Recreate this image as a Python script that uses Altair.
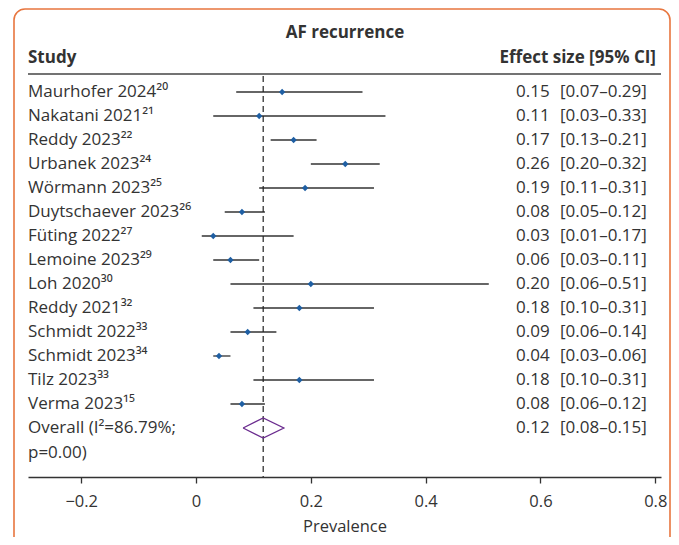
import altair as alt
import pandas as pd

# ---- data ----
studies = ["Maurhofer 2024²⁰", "Nakatani 2021²¹", "Reddy 2023²²", "Urbanek 2023²⁴",
           "Wörmann 2023²⁵", "Duytschaever 2023²⁶", "Füting 2022²⁷", "Lemoine 2023²⁹",
           "Loh 2020³⁰", "Reddy 2021³²", "Schmidt 2022³³", "Schmidt 2023³⁴",
           "Tilz 2023³³", "Verma 2023¹⁵"]
estimates = [0.15, 0.11, 0.17, 0.26, 0.19, 0.08, 0.03, 0.06, 0.20, 0.18, 0.09, 0.04, 0.18, 0.08]
lower = [0.07, 0.03, 0.13, 0.20, 0.11, 0.05, 0.01, 0.03, 0.06, 0.10, 0.06, 0.03, 0.10, 0.06]
upper = [0.29, 0.33, 0.21, 0.32, 0.31, 0.12, 0.17, 0.11, 0.51, 0.31, 0.14, 0.06, 0.31, 0.12]

overall_label = "Overall (I²=86.79%;"
overall_label2 = "p=0.00)"
overall_est = 0.117
overall_lower = 0.082
overall_upper = 0.153

x_ticks = [-0.2, 0, 0.2, 0.4, 0.6, 0.8]

# ---- styling ----
FONT = "Open Sans"
TXT = "#333333"
FS = 17
W, H = 633, 469

n = len(studies)
df = pd.DataFrame({
    "row": list(range(n)),
    "study": studies,
    "est": estimates,
    "lo": lower,
    "hi": upper,
})
df["eff"] = [f"{v:.2f}" for v in estimates]
df["ci"] = [f"[{a:.2f}–{b:.2f}]" for a, b in zip(lower, upper)]

ov_row = n
ov = pd.DataFrame({
    "row": [ov_row], "study": [overall_label], "study2": [overall_label2],
    "est": [overall_est], "lo": [overall_lower], "hi": [overall_upper],
    "eff": [f"{overall_est:.2f}"], "ci": [f"[{overall_lower:.2f}–{overall_upper:.2f}]"],
})
half = 0.42
diamond = pd.DataFrame({
    "est": [overall_lower, overall_est, overall_upper, overall_est, overall_lower],
    "row": [ov_row, ov_row - half, ov_row, ov_row + half, ov_row],
    "o": [0, 1, 2, 3, 4],
})

xscale = alt.Scale(domain=[-0.2927, 0.81], nice=False, zero=False)
yscale = alt.Scale(domain=[-3.5, 16.042], reverse=True, nice=False, zero=False)
xaxis = alt.Axis(values=x_ticks, format=".1~f", title="Prevalence", grid=False)


def X(f):
    return alt.X(f, scale=xscale, axis=xaxis)


Y = alt.Y("row:Q", scale=yscale, axis=None)

# header / frame table (pixel layout positions)
hdr = pd.DataFrame({"t": ["AF recurrence", "Study", "Effect size [95% CI]"]})

frame = alt.Chart(hdr.iloc[:1]).mark_rect(
    fillOpacity=0, stroke="#E8763F", strokeWidth=1.6, cornerRadius=11
).encode(x=alt.value(-14), x2=alt.value(642), y=alt.value(1), y2=alt.value(600))

title = alt.Chart(hdr.iloc[:1]).mark_text(
    font=FONT, fontSize=FS, fontWeight="bold", color=TXT, align="center", baseline="middle"
).encode(x=alt.value(317), y=alt.value(25), text="t:N")

h_study = alt.Chart(hdr.iloc[1:2]).mark_text(
    font=FONT, fontSize=FS, fontWeight="bold", color=TXT, align="left", baseline="middle"
).encode(x=alt.value(0), y=alt.value(50), text="t:N")

h_eff = alt.Chart(hdr.iloc[2:3]).mark_text(
    font=FONT, fontSize=FS, fontWeight="bold", color=TXT, align="right", baseline="middle"
).encode(x=alt.value(628), y=alt.value(50), text="t:N")

h_line = alt.Chart(hdr.iloc[:1]).mark_rule(color="#444444", strokeWidth=1.5).encode(
    x=alt.value(0), x2=alt.value(W), y=alt.value(66))

ref = alt.Chart(ov).mark_rule(color="#222222", strokeWidth=1.2, strokeDash=[6, 4]).encode(
    x=X("est:Q"), y=alt.value(68), y2=alt.value(H))

bars = alt.Chart(df).mark_rule(color="#333333", strokeWidth=1.3).encode(
    x=X("lo:Q"), x2="hi:Q", y=Y)

pts = alt.Chart(df).mark_point(shape="diamond", filled=True, size=40, color="#1F5FA3", opacity=1).encode(
    x=X("est:Q"), y=Y)

dia = alt.Chart(diamond).mark_line(color="#6B2C8F", strokeWidth=1.3).encode(
    x=X("est:Q"), y=Y, order="o:Q")


def col(data, field, xpix, dy=0):
    return alt.Chart(data).mark_text(
        font=FONT, fontSize=FS, color=TXT, align="left", baseline="middle", dy=dy
    ).encode(x=alt.value(xpix), y=Y, text=f"{field}:N")


chart = alt.layer(
    frame, bars, pts, ref, dia, h_line, title, h_study, h_eff,
    col(df, "study", 0), col(df, "eff", 488), col(df, "ci", 532),
    col(ov, "study", 0), col(ov, "study2", 0, 25), col(ov, "eff", 488), col(ov, "ci", 532),
).properties(
    width=W, height=H,
    autosize=alt.AutoSizeParams(type="none"),
    padding={"left": 20, "top": 0, "right": 10, "bottom": 60},
).configure_view(stroke=None).configure_axis(
    domainColor="#333333", domainWidth=1.5, tickColor="#333333", tickWidth=1.3, tickSize=6,
    labelFont=FONT, labelFontSize=16.5, labelColor=TXT, labelPadding=10,
    titleFont=FONT, titleFontSize=16.5, titleColor=TXT, titleFontWeight="normal", titlePadding=9,
)

chart.save("out.html", embed_options={"renderer": "svg", "actions": False})
